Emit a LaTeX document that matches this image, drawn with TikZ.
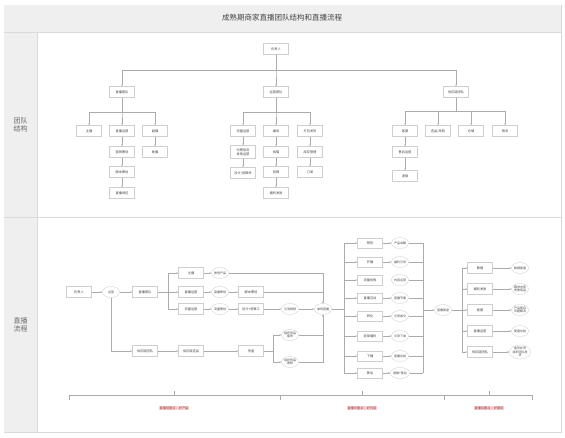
\documentclass[tikz,border=0pt]{standalone}
\usepackage{fontspec}
\setmainfont{Noto Sans CJK SC}
\usetikzlibrary{arrows.meta,shapes.geometric}
\definecolor{lc}{HTML}{ABABAB}
\definecolor{bx}{HTML}{CFCFCF}
\definecolor{tx}{HTML}{444444}
\definecolor{fr}{HTML}{DADADA}
\definecolor{band}{HTML}{EFEFEF}
\definecolor{pinkbg}{HTML}{F7D2D2}
\definecolor{pinktx}{HTML}{9E3A3A}
\begin{document}
\begin{tikzpicture}[x=1pt,y=-1pt,
  box/.style={draw=bx, line width=0.35pt, fill=white, minimum width=25pt, minimum height=11pt, inner sep=0.5pt, font=\fontsize{3.2}{3.9}\selectfont, text=tx, align=center},
  ell/.style={ellipse, draw=bx, line width=0.35pt, fill=white, minimum width=17pt, minimum height=11pt, inner sep=0pt, font=\fontsize{3.0}{3.6}\selectfont, text=tx, align=center},
  ln/.style={draw=lc, line width=0.35pt},
  arr/.style={ln, -{Stealth[length=2pt,width=1.6pt]}},
  tag/.style={fill=pinkbg, inner sep=0.8pt, font=\fontsize{3.2}{3.9}\selectfont, text=pinktx},
  side/.style={font=\fontsize{7}{8.5}\selectfont, text=tx!80, align=center}
]
\useasboundingbox (0,0) rectangle (565,437);
% frame
\draw[draw=fr, fill=white, line width=0.5pt] (4,5) rectangle (561,432);
\fill[band] (4.25,5.25) rectangle (560.75,32);
\fill[band] (4.25,32) rectangle (37,431.75);
\draw[draw=fr, line width=0.5pt] (4,32) -- (561,32);
\draw[draw=fr, line width=0.5pt] (37,32) -- (37,432);
\draw[draw=fr, line width=0.5pt] (4,217) -- (561,217);
\node[font=\fontsize{7.5}{9}\selectfont, text=tx] (title) at (282,18) {成熟期商家直播团队结构和直播流程};
\node[side] (lab1) at (20.5,125) {团队\\结构};
\node[side] (lab2) at (20.5,325) {直播\\流程};

% ---------------- upper: team structure ----------------
\coordinate (bus0) at (0,70);
\coordinate (busA) at (0,112);
\coordinate (busC) at (0,111);
\node[box] (u0) at (276,49) {负责人};
\node[box] (a) at (122,92) {直播团队};
\node[box] (b) at (276,92) {运营团队};
\node[box] (c) at (456,92) {供应链团队};
\foreach \t in {a,b,c} \draw[arr] (u0.south) -- (u0.south |- bus0) -| (\t.north);

\node[box] (a1) at (89,131) {主播};
\node[box] (a2) at (122,131) {直播运营};
\node[box] (a3) at (155,131) {副播};
\node[box] (a21) at (122,152) {营销策划};
\node[box] (a22) at (122,172) {脚本策划};
\node[box] (a23) at (122,193) {直播场控};
\node[box] (a31) at (155,152) {助播};
\foreach \t in {a1,a2,a3} \draw[arr] (a.south) -- (a.south |- busA) -| (\t.north);
\draw[arr] (a2) -- (a21);
\draw[arr] (a21) -- (a22);
\draw[arr] (a22) -- (a23);
\draw[arr] (a3) -- (a31);

\node[box] (b1) at (243,131) {流量运营};
\node[box] (b2) at (276,131) {编导};
\node[box] (b3) at (310,131) {打包发货};
\node[box, minimum height=13pt] (b11) at (243,152) {付费投流\\投放运营};
\node[box] (b12) at (243,173) {设计/剪辑师};
\node[box] (b21) at (276,152) {拍摄};
\node[box] (b22) at (276,172) {剪辑};
\node[box] (b23) at (276,193) {福利发放};
\node[box] (b31) at (310,152) {库存管理};
\node[box] (b32) at (310,172) {订单};
\foreach \t in {b1,b2,b3} \draw[arr] (b.south) -- (b.south |- busA) -| (\t.north);
\draw[arr] (b1) -- (b11);
\draw[arr] (b11) -- (b12);
\draw[arr] (b2) -- (b21);
\draw[arr] (b21) -- (b22);
\draw[arr] (b22) -- (b23);
\draw[arr] (b3) -- (b31);
\draw[arr] (b31) -- (b32);

\node[box] (c1) at (405,131) {客服};
\node[box] (c2) at (438,131) {选品/采购};
\node[box] (c3) at (471,131) {仓储};
\node[box] (c4) at (505,131) {物流};
\node[box] (c11) at (405,152) {售后运营};
\node[box] (c12) at (405,176) {退换};
\foreach \t in {c1,c2,c3,c4} \draw[arr] (c.south) -- (c.south |- busC) -| (\t.north);
\draw[arr] (c1) -- (c11);
\draw[arr] (c11) -- (c12);

% ---------------- lower: live process ----------------
\node[box] (l0) at (79,292) {负责人};
\node[ell] (ly) at (111,292) {运营};
\node[box] (lt) at (145,292) {直播团队};
\draw[arr] (l0) -- (ly);
\draw[arr] (ly) -- (lt);
\coordinate (jL) at (168,292);
\node[box] (m1) at (191,273) {主播};
\node[box] (m2) at (191,292) {直播运营};
\node[box] (m3) at (191,309) {流量运营};
\draw[ln] (lt.east) -- (jL);
\foreach \t in {m1,m2,m3} \draw[arr] (jL) |- (\t.west);
\node[ell] (e1) at (220,273) {熟悉产品};
\node[ell] (e2) at (220,292) {直播策划};
\node[ell] (e3) at (220,309) {流量策划};
\draw[arr] (m1) -- (e1);
\draw[arr] (m2) -- (e2);
\draw[arr] (m3) -- (e3);
\node[box] (f2) at (251,292) {脚本策划};
\node[box] (f3) at (251,309) {设计+剪辑工};
\node[ell] (g3) at (290,309) {引流视频};
\node[ell] (ce) at (323,309) {单场直播};
\draw[arr] (e2) -- (f2);
\draw[arr] (e3) -- (f3);
\draw[arr] (f3) -- (g3);
\draw[arr] (g3) -- (ce);
\draw[arr] (e1.east) -| (ce.north);
\draw[arr] (f2.east) -| (ce.north);

\node[box] (s1) at (145,351) {供应链团队};
\node[box] (s2) at (191,351) {供应链选品};
\node[box] (s3) at (251,351) {货盘};
\draw[arr] (ly.south) |- (s1.west);
\draw[arr] (s1) -- (s2);
\draw[arr] (s2) -- (s3);
\coordinate (jS) at (273,351);
\node[ell] (h1) at (290,335) {组织货品\\备货};
\node[ell] (h2) at (290,362) {组织货品\\寄样};
\draw[ln] (s3.east) -- (jS);
\draw[arr] (jS) |- (h1.west);
\draw[arr] (jS) |- (h2.west);
\draw[arr] (h1.east) -| (ce.south);
\draw[arr] (h2.east) -| (ce.south);

% eight live steps
\coordinate (jC) at (344,309);
\draw[ln] (ce.east) -- (jC);
\node[ell] (rv) at (443,310) {直播复盘};
\coordinate (jR) at (423,310);
\foreach \y/\bt/\et [count=\i] in {243/预热/产品讲解, 262/开播/福利引导, 280/流量投放/内容运营, 298/直播互动/直播节奏, 316/转化/引导成交, 336/追单福利/引导下单, 356/下播/直播总结, 373/售后/退换+售后}{
  \node[box, minimum height=10pt] (p\i) at (370,\y) {\bt};
  \node[ell] (q\i) at (400,\y) {\et};
  \draw[arr] (jC) |- (p\i.west);
  \ifnum\i=3\else\draw[arr] (p\i.east) -- (q\i.west);\fi
  \draw[ln] (q\i.east) -- (q\i.east -| jR);
}
\draw[ln] (q1.east -| jR) -- (q8.east -| jR);
\draw[arr] (jR) -- (rv.west);

% after live
\coordinate (jT) at (462,310);
\draw[ln] (rv.east) -- (jT);
\foreach \y/\bt/\et [count=\i] in {268/数据/数据复盘, 289/福利发放/{跟进中奖\\发放奖品}, 310/客服/{产品售后\\问题解决}, 331/直播运营/复盘总结, 352/供应链团队/{备货补货\\组织团队发\\货}}{
  \node[box] (t\i) at (480,\y) {\bt};
  \node[ell] (w\i) at (520,\y) {\et};
  \draw[arr] (jT) |- (t\i.west);
  \draw[arr] (t\i.east) -- (w\i.west);
}

% bottom bracket
\coordinate (k0) at (69,395);
\coordinate (k1) at (280,395);
\coordinate (k2) at (444,395);
\coordinate (k3) at (532,395);
\draw[ln] ([yshift=-5pt]k0) -- (k0) -- (k3) -- ([yshift=-5pt]k3);
\draw[ln] (k1) -- ([yshift=-5pt]k1);
\draw[ln] (k2) -- ([yshift=-5pt]k2);
\coordinate (d1) at (174,395);
\coordinate (d2) at (362,395);
\coordinate (d3) at (489,395);
\foreach \d in {d1,d2,d3} \draw[ln] (\d) -- ([yshift=4pt]\d);
\node[tag] (tg1) at (174,408) {直播前重点：好产品};
\node[tag] (tg2) at (362,408) {直播中重点：好内容};
\node[tag] (tg3) at (489,408) {直播后重点：好服务};
\end{tikzpicture}
\end{document}
